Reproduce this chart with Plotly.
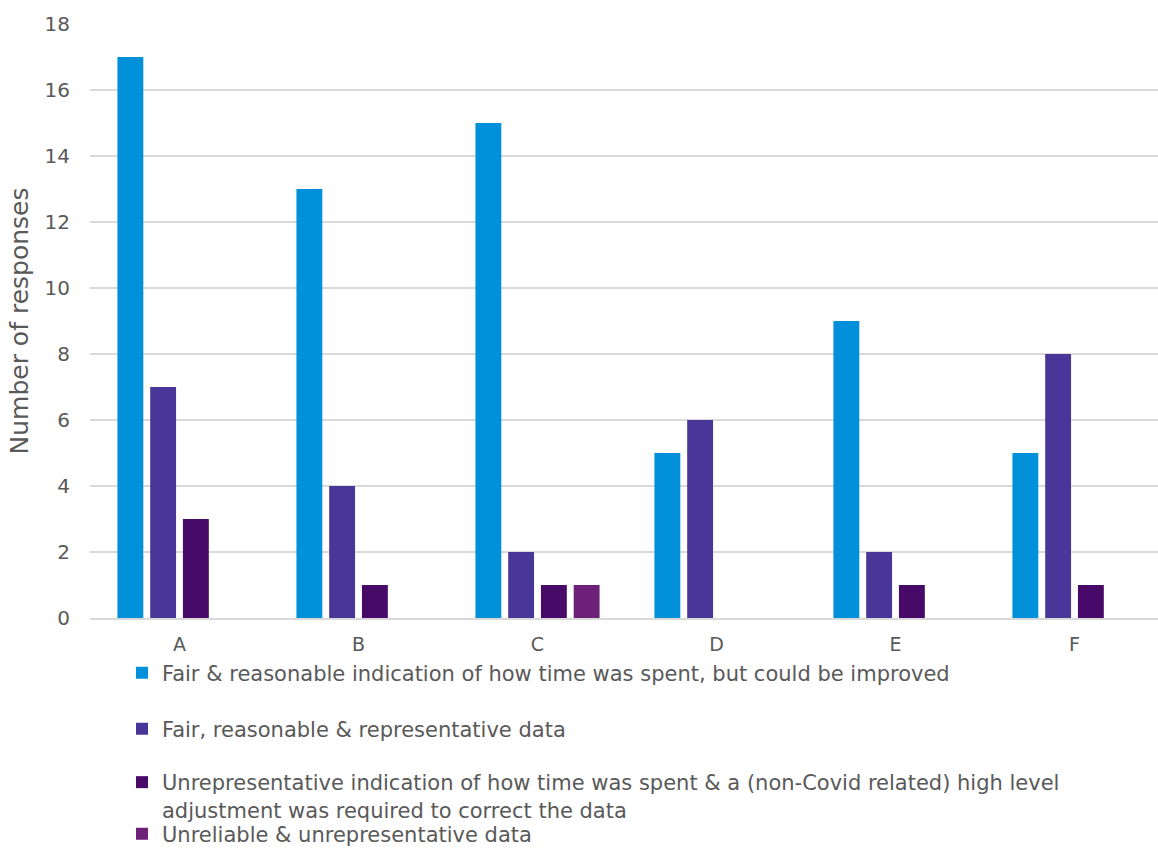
import plotly.graph_objects as go

# Survey responses per group, by assessment of the data
categories = ["A", "B", "C", "D", "E", "F"]

fair_could_improve = [17, 13, 15, 5, 9, 5]
fair_representative = [7, 4, 2, 6, 2, 8]
unrep_adjustment = [3, 1, 1, 0, 1, 1]
unreliable = [0, 0, 1, 0, 0, 0]

series_names = [
    "Fair & reasonable indication of how time was spent, but could be improved",
    "Fair, reasonable & representative data",
    "Unrepresentative indication of how time was spent & a (non-Covid related) high level<br>adjustment was required to correct the data",
    "Unreliable & unrepresentative data",
]
series_values = [fair_could_improve, fair_representative, unrep_adjustment, unreliable]
series_colors = ["#0091DA", "#483698", "#470A68", "#6D2077"]
legend_ids = ["legend", "legend2", "legend3", "legend4"]

TEXT = "#595959"
GRID = "#D9D9D9"
FONT = "DejaVu Sans"

W, H = 1158, 849
ML, MR, MT, MB = 90, 0, 24, 231
plot_h = H - MT - MB
plot_w = W - ML - MR


def py(pix):
    """Pixel row -> paper y."""
    return (H - MB - pix) / plot_h


def px(pix):
    """Pixel column -> paper x."""
    return (pix - ML) / plot_w


fig = go.Figure()
for name, vals, col, lg in zip(series_names, series_values, series_colors, legend_ids):
    fig.add_trace(
        go.Bar(
            x=categories,
            y=vals,
            name=name,
            marker=dict(color=col, line=dict(width=0)),
            legend=lg,
        )
    )

# vertical placement of each legend entry (pixel rows)
legend_rows = [673, 729, 762, 834]
legend_common = dict(
    x=px(122),
    xanchor="left",
    bgcolor="rgba(0,0,0,0)",
    borderwidth=0,
    font=dict(family=FONT, size=21, color=TEXT),
    itemwidth=30,
    valign="top",
    itemclick=False,
    itemdoubleclick=False,
)

layout_legends = {}
for lg, row in zip(legend_ids, legend_rows):
    anchor = "top" if lg == "legend3" else "middle"
    layout_legends[lg] = dict(legend_common, y=py(row), yanchor=anchor)

fig.update_layout(
    width=W,
    height=H,
    margin=dict(l=ML, r=MR, t=MT, b=MB, pad=0, autoexpand=False),
    paper_bgcolor="white",
    plot_bgcolor="white",
    barmode="group",
    bargap=0.268,
    bargroupgap=0.21,
    font=dict(family=FONT, color=TEXT),
    showlegend=True,
    **layout_legends,
)

fig.update_xaxes(
    range=[-0.5, -0.5 + plot_w / 179.0],
    showgrid=False,
    showline=True,
    linecolor=GRID,
    linewidth=1.5,
    ticks="",
    ticklabelstandoff=8,
    tickfont=dict(family=FONT, size=19, color=TEXT),
    fixedrange=True,
)

fig.update_yaxes(
    range=[0, 18],
    dtick=2,
    showgrid=True,
    gridcolor=GRID,
    gridwidth=1.5,
    zeroline=False,
    showline=False,
    ticks="",
    ticklabelstandoff=19,
    tickfont=dict(family=FONT, size=20, color=TEXT),
    title=dict(text="Number of responses", font=dict(family=FONT, size=25, color=TEXT), standoff=8),
    fixedrange=True,
)

fig.write_html("out.html", config={"displayModeBar": False})
